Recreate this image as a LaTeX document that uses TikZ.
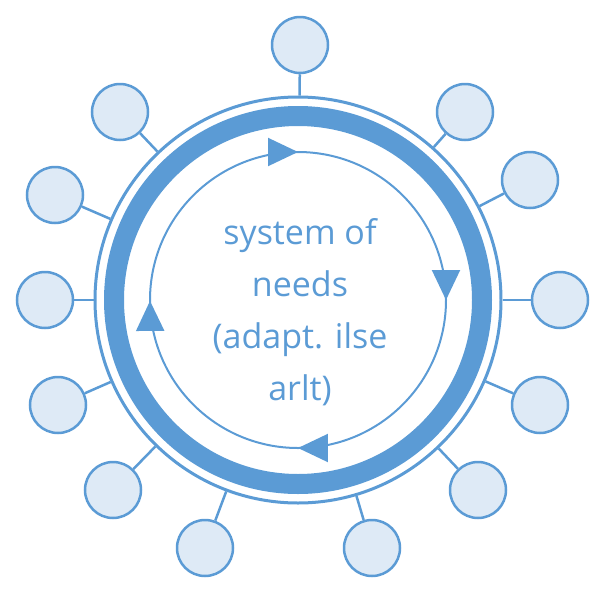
\documentclass[tikz,border=0pt]{standalone}
\usepackage{fontspec}
\setmainfont{Open Sans}
\usetikzlibrary{decorations.markings,arrows.meta}
\definecolor{bl}{HTML}{5B9BD5}
\definecolor{lb}{HTML}{DEEAF6}
\begin{document}
\begin{tikzpicture}[x=1pt,y=-1pt,
 sat/.style={circle,draw=bl,fill=lb,line width=2.5pt,minimum size=56pt,inner sep=0pt},
 spoke/.style={draw=bl,line width=2.5pt}]
\useasboundingbox (0,0) rectangle (600,600);
\coordinate (c) at (298,300);
\node[circle,draw=bl,line width=3pt,minimum size=406pt,inner sep=0pt] (outer) at (c) {};
\draw[bl,line width=20pt] (c) circle (184);
\foreach \n/\x/\y in {a/300/45,b/465/112,c2/530/180,d/560/300,e/540/405,f/478/490,g/372/548,h/205/548,i/113/490,j/58/405,k/45/300,l/55/195,m/120/112}{
 \node[sat] (\n) at (\x,\y) {};
 \draw[spoke] (\n) -- (outer);
}
\draw[bl,line width=2pt,decoration={markings,
 mark=at position 0.25 with {\arrow{Triangle[length=30pt,width=28pt]}},
 mark=at position 0.5 with {\arrow{Triangle[length=30pt,width=28pt]}},
 mark=at position 0.75 with {\arrow{Triangle[length=30pt,width=28pt]}},
 mark=at position 0.999 with {\arrow{Triangle[length=30pt,width=28pt]}}},postaction={decorate}]
 (c) ++(-148,0) arc[start angle=180,end angle=540,radius=148];
\node[text=bl,font=\fontsize{34}{52}\selectfont,align=center] (t) at (300,312) {system of\\needs\\(adapt. ilse\\arlt)};
\end{tikzpicture}
\end{document}
